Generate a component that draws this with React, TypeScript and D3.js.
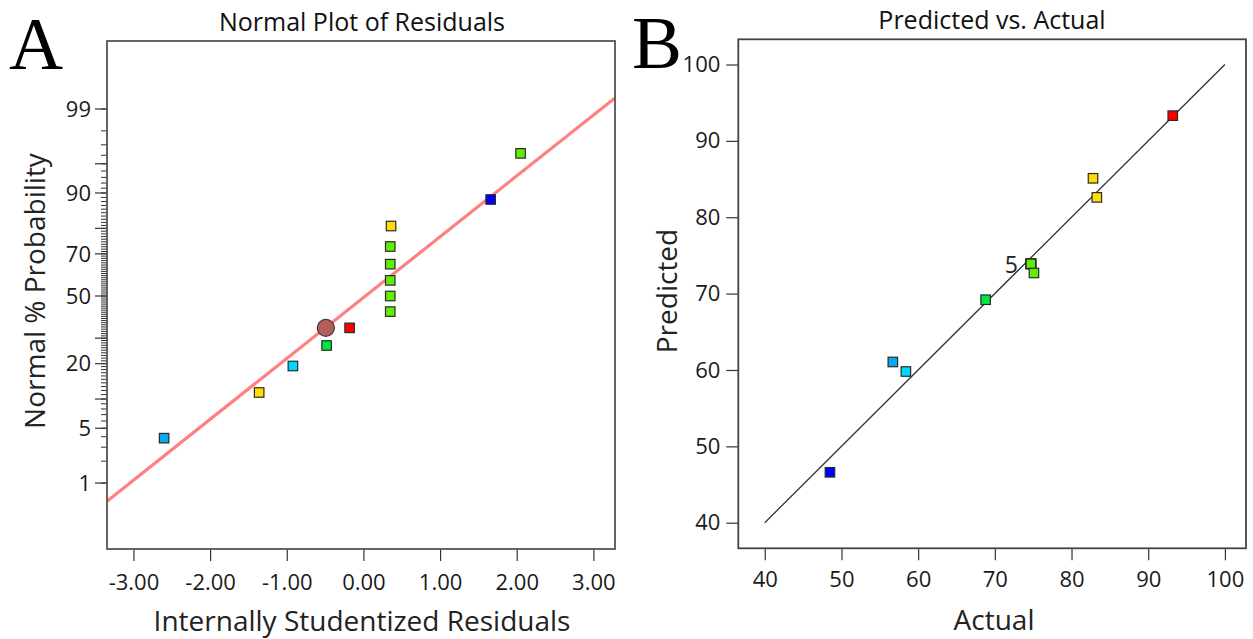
import { useEffect, useRef } from 'react';
import * as d3 from 'd3';

// runs ordered by studentized residual (rank order of the normal plot)
const residuals = [-2.6, -1.36, -0.92, -0.48, -0.18, 0.35, 0.35, 0.35, 0.35, 0.35, 0.36, 1.66, 2.05];
const probabilities = [3.85, 11.5, 19.2, 26.9, 34.6, 42.3, 50, 57.7, 65.4, 73.1, 80.8, 88.5, 96.2];
const actual = [56.7, 82.8, 58.4, 68.8, 93.2, 74.7, 74.7, 74.7, 74.7, 74.7, 83.3, 48.5, 75.1];
const predicted = [61.05, 85.1, 59.8, 69.2, 93.3, 73.9, 73.9, 73.9, 73.9, 73.9, 82.6, 46.6, 72.7];
const runColors = ['#0aa6f0', '#ffdd00', '#00d8ff', '#00e640', '#ff0000', '#62ec00', '#62ec00', '#62ec00', '#62ec00', '#62ec00', '#ffdd00', '#0000ff', '#62ec00'];

// highlighted point on the normal plot
const selectedResidual = -0.49;
const selectedProbability = 34.6;

// normal line fit: z = slope * residual + intercept
const fitSlope = 0.757;
const fitIntercept = -0.02;

const residualTicks = [-3, -2, -1, 0, 1, 2, 3];
const probLabelTicks = [1, 5, 20, 50, 70, 90, 99];
const probLongTicks = [1, 5, 10, 20, 30, 50, 70, 80, 90, 95, 99];
const probMinorTicks = d3.range(1, 100);
const actualTicks = [40, 50, 60, 70, 80, 90, 100];
const predictedTicks = [40, 50, 60, 70, 80, 90, 100];
const diagonal = [40, 100];
const overlapCount = 5;

const FONT = '"Open Sans", "Noto Sans", sans-serif';

// inverse normal CDF (Acklam)
function probit(p: number): number {
  const a = [-39.69683028665376, 220.9460984245205, -275.9285104469687, 138.357751867269, -30.66479806614716, 2.506628277459239];
  const b = [-54.47609879822406, 161.5858368580409, -155.6989798598866, 66.80131188771972, -13.28068155288572];
  const c = [-0.007784894002430293, -0.3223964580411365, -2.400758277161838, -2.549732539343734, 4.374664141464968, 2.938163982698783];
  const d = [0.007784695709041462, 0.3224671290700398, 2.445134137142996, 3.754408661907416];
  const plow = 0.02425;
  if (p < plow) {
    const q = Math.sqrt(-2 * Math.log(p));
    return (((((c[0] * q + c[1]) * q + c[2]) * q + c[3]) * q + c[4]) * q + c[5]) / ((((d[0] * q + d[1]) * q + d[2]) * q + d[3]) * q + 1);
  }
  if (p > 1 - plow) {
    const q = Math.sqrt(-2 * Math.log(1 - p));
    return -(((((c[0] * q + c[1]) * q + c[2]) * q + c[3]) * q + c[4]) * q + c[5]) / ((((d[0] * q + d[1]) * q + d[2]) * q + d[3]) * q + 1);
  }
  const q = p - 0.5;
  const r = q * q;
  return (((((a[0] * r + a[1]) * r + a[2]) * r + a[3]) * r + a[4]) * r + a[5]) * q / (((((b[0] * r + b[1]) * r + b[2]) * r + b[3]) * r + b[4]) * r + 1);
}

export default function App() {
  const ref = useRef<SVGSVGElement>(null);

  useEffect(() => {
    const svg = d3.select(ref.current);
    svg.selectAll('*').remove();

    // ---------- A: normal plot of residuals ----------
    const L = { left: 107, right: 615, top: 41, bottom: 549 };
    const xL = d3.scaleLinear().domain([-3.345, 3.282]).range([L.left, L.right]);
    const zL = d3.scaleLinear().domain([-3.147, 3.172]).range([L.bottom, L.top]);
    const yL = (p: number) => zL(probit(p / 100));

    const gA = svg.append('g');

    gA.append('line')
      .attr('x1', xL(xL.domain()[0])).attr('y1', zL(fitSlope * xL.domain()[0] + fitIntercept))
      .attr('x2', xL(xL.domain()[1])).attr('y2', zL(fitSlope * xL.domain()[1] + fitIntercept))
      .attr('stroke', '#ff8080').attr('stroke-width', 3.2);

    gA.selectAll('.minor').data(probMinorTicks).join('line')
      .attr('x1', L.left - 6).attr('x2', L.left)
      .attr('y1', d => yL(d)).attr('y2', d => yL(d))
      .attr('stroke', '#333').attr('stroke-width', 1);

    gA.selectAll('.long').data(probLongTicks).join('line')
      .attr('x1', L.left - 12).attr('x2', L.left)
      .attr('y1', d => yL(d)).attr('y2', d => yL(d))
      .attr('stroke', '#333').attr('stroke-width', 1.2);

    gA.selectAll('.plabel').data(probLabelTicks).join('text')
      .attr('x', L.left - 16).attr('y', d => yL(d)).attr('dy', '0.35em')
      .attr('text-anchor', 'end')
      .style('font-family', FONT).style('font-size', '22px').attr('fill', '#1a1a1a')
      .text(d => d);

    const xAxisA = gA.append('g')
      .attr('transform', `translate(0, ${L.bottom})`)
      .call(d3.axisBottom(xL).tickValues(residualTicks).tickSize(12).tickPadding(13).tickFormat(d => (+d).toFixed(2)));
    xAxisA.select('.domain').remove();
    xAxisA.selectAll('line').attr('stroke', '#333').attr('stroke-width', 1.2);
    xAxisA.selectAll('text').style('font-family', FONT).style('font-size', '22px').attr('fill', '#1a1a1a');

    gA.append('rect')
      .attr('x', L.left).attr('y', L.top)
      .attr('width', L.right - L.left).attr('height', L.bottom - L.top)
      .attr('fill', 'none').attr('stroke', '#555').attr('stroke-width', 1.8);

    gA.selectAll('.pt').data(residuals).join('rect')
      .attr('x', d => xL(d) - 4.75)
      .attr('y', (d, i) => yL(probabilities[i]) - 4.75)
      .attr('width', 9.5).attr('height', 9.5)
      .attr('fill', (d, i) => runColors[i])
      .attr('stroke', '#2a2a2a').attr('stroke-width', 1.2);

    gA.append('circle')
      .attr('cx', xL(selectedResidual)).attr('cy', yL(selectedProbability))
      .attr('r', 8.5)
      .attr('fill', '#b85c5c').attr('stroke', '#3a3a3a').attr('stroke-width', 1.3);

    gA.append('text')
      .attr('x', 362).attr('y', 30.5).attr('text-anchor', 'middle')
      .style('font-family', FONT).style('font-size', '25px').attr('fill', '#111')
      .text('Normal Plot of Residuals');

    gA.append('text')
      .attr('x', 362).attr('y', 631).attr('text-anchor', 'middle')
      .style('font-family', FONT).style('font-size', '28px').attr('fill', '#222')
      .text('Internally Studentized Residuals');

    gA.append('text')
      .attr('transform', 'translate(44.5, 291) rotate(-90)').attr('text-anchor', 'middle')
      .style('font-family', FONT).style('font-size', '28px').attr('fill', '#222')
      .text('Normal % Probability');

    gA.append('text')
      .attr('x', 9).attr('y', 69)
      .style('font-family', '"Liberation Serif", "DejaVu Serif", serif').style('font-size', '75px').attr('fill', '#000')
      .text('A');

    // ---------- B: predicted vs actual ----------
    const R = { left: 738.3, right: 1246, top: 39.3, bottom: 548.3 };
    const xR = d3.scaleLinear().domain([36.55, 102.75]).range([R.left, R.right]);
    const yR = d3.scaleLinear().domain([36.65, 103.3]).range([R.bottom, R.top]);

    const gB = svg.append('g');

    gB.append('line')
      .attr('x1', xR(diagonal[0])).attr('y1', yR(diagonal[0]))
      .attr('x2', xR(diagonal[1])).attr('y2', yR(diagonal[1]))
      .attr('stroke', '#333').attr('stroke-width', 1.3);

    const xAxisB = gB.append('g')
      .attr('transform', `translate(0, ${R.bottom})`)
      .call(d3.axisBottom(xR).tickValues(actualTicks).tickSize(12).tickPadding(11));
    const yAxisB = gB.append('g')
      .attr('transform', `translate(${R.left}, 0)`)
      .call(d3.axisLeft(yR).tickValues(predictedTicks).tickSize(12).tickPadding(6));
    [xAxisB, yAxisB].forEach(ax => {
      ax.select('.domain').remove();
      ax.selectAll('line').attr('stroke', '#333').attr('stroke-width', 1.2);
      ax.selectAll('text').style('font-family', FONT).style('font-size', '22px').attr('fill', '#1a1a1a');
    });

    gB.append('rect')
      .attr('x', R.left).attr('y', R.top)
      .attr('width', R.right - R.left).attr('height', R.bottom - R.top)
      .attr('fill', 'none').attr('stroke', '#444').attr('stroke-width', 1.8);

    gB.selectAll('.pt').data(actual).join('rect')
      .attr('x', d => xR(d) - 4.75)
      .attr('y', (d, i) => yR(predicted[i]) - 4.75)
      .attr('width', 9.5).attr('height', 9.5)
      .attr('fill', (d, i) => runColors[i])
      .attr('stroke', '#2a2a2a').attr('stroke-width', 1.2);

    gB.append('text')
      .attr('x', xR(actual[5]) - 13).attr('y', yR(predicted[5]) + 9)
      .attr('text-anchor', 'end')
      .style('font-family', FONT).style('font-size', '23px').attr('fill', '#222')
      .text(overlapCount);

    gB.append('text')
      .attr('x', 992).attr('y', 28.5).attr('text-anchor', 'middle')
      .style('font-family', FONT).style('font-size', '25px').attr('fill', '#111')
      .text('Predicted vs. Actual');

    gB.append('text')
      .attr('x', 994).attr('y', 630).attr('text-anchor', 'middle')
      .style('font-family', FONT).style('font-size', '28px').attr('fill', '#222')
      .text('Actual');

    gB.append('text')
      .attr('transform', 'translate(676.5, 291) rotate(-90)').attr('text-anchor', 'middle')
      .style('font-family', FONT).style('font-size', '28px').attr('fill', '#222')
      .text('Predicted');

    gB.append('text')
      .attr('x', 632).attr('y', 68)
      .style('font-family', '"Liberation Serif", "DejaVu Serif", serif').style('font-size', '75px').attr('fill', '#000')
      .text('B');
  }, []);

  return (
    <svg
      ref={ref}
      width={1253}
      height={639}
      style={{ position: 'absolute', left: 0, top: 0, background: '#fff' }}
    />
  );
}
